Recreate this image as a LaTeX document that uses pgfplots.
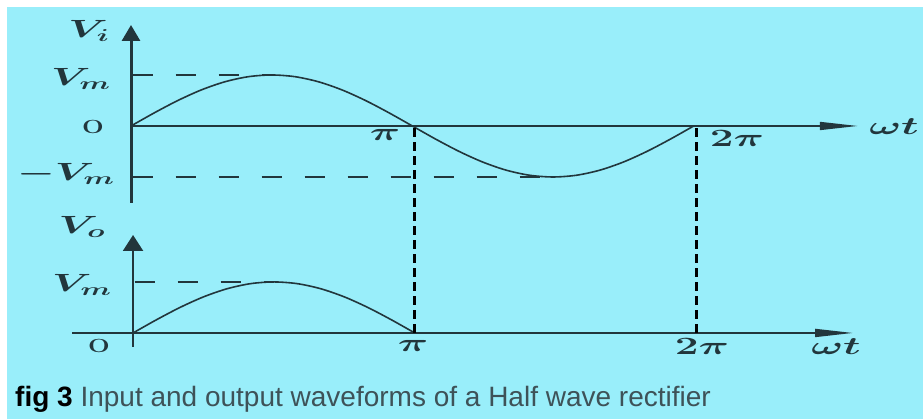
\documentclass[border=0pt]{standalone}
\usepackage{pgfplots}
\pgfplotsset{compat=1.18}
\usepackage{fontspec}
\usetikzlibrary{arrows.meta}
\newfontfamily\capfont{Liberation Sans}
\definecolor{bgcyan}{RGB}{153,238,250}
\definecolor{ink}{RGB}{34,54,60}
\definecolor{capgray}{RGB}{62,82,88}
\newcommand{\lab}[1]{\scalebox{1.7}[1]{\fontsize{25}{27}\selectfont\boldmath$#1$}}
\newcommand{\orig}{\scalebox{1.35}[1]{\fontsize{19}{21}\selectfont\bfseries O}}
\begin{document}
\begin{tikzpicture}
\useasboundingbox (0pt,0pt) rectangle (923pt,419pt);
\fill[white] (0pt,0pt) rectangle (923pt,419pt);
\fill[bgcyan] (7pt,0pt) rectangle (923pt,412pt);

% ---------- input waveform ----------
\begin{axis}[
  at={(131pt,216pt)}, anchor=south west,
  scale only axis, width=726.8pt, height=178pt,
  xmin=0, xmax=465, ymin=-1.51, ymax=1.98,
  enlargelimits=false, clip=false,
  axis lines=middle, xtick=\empty, ytick=\empty,
  axis line style={draw=ink},
  x axis line style={line width=1.5pt, -{Triangle[length=38pt,width=8pt]}},
  y axis line style={line width=3pt, -{Triangle[length=16pt,width=18pt]}},
]
\addplot[ink, line width=1.6pt, smooth] coordinates {
 (0,0) (15,0.259) (30,0.5) (45,0.707) (60,0.866) (75,0.966) (90,1)
 (105,0.966) (120,0.866) (135,0.707) (150,0.5) (165,0.259) (180,0)
 (195,-0.259) (210,-0.5) (225,-0.707) (240,-0.866) (255,-0.966) (270,-1)
 (285,-0.966) (300,-0.866) (315,-0.707) (330,-0.5) (345,-0.259) (360,0)};
\addplot[ink, line width=1.3pt, dash pattern=on 20pt off 23pt] coordinates {(1,1) (90,1)};
\addplot[ink, line width=1.3pt, dash pattern=on 20pt off 23pt] coordinates {(1,-1) (270,-1)};
\end{axis}

% ---------- output waveform ----------
\begin{axis}[
  at={(72pt,72pt)}, anchor=south west,
  scale only axis, width=781pt, height=112pt,
  xmin=-39, xmax=460, ymin=-0.275, ymax=1.92,
  enlargelimits=false, clip=false,
  axis lines=middle, xtick=\empty, ytick=\empty,
  axis line style={draw=ink},
  x axis line style={line width=1.7pt, -{Triangle[length=38pt,width=8pt]}},
  y axis line style={line width=2.2pt, -{Triangle[length=16pt,width=20pt]}},
]
\addplot[ink, line width=1.6pt, smooth] coordinates {
 (0,0) (15,0.259) (30,0.5) (45,0.707) (60,0.866) (75,0.966) (90,1)
 (105,0.966) (120,0.866) (135,0.707) (150,0.5) (165,0.259) (180,0)};
\addplot[ink, line width=1.6pt] coordinates {(180,0) (360,0)};
\addplot[ink, line width=1.3pt, dash pattern=on 20pt off 23pt] coordinates {(1,1) (90,1)};
\addplot[black, line width=2.8pt, dash pattern=on 9pt off 5pt] coordinates {(180,0) (180,4.06)};
\addplot[black, line width=2.8pt, dash pattern=on 9pt off 5pt] coordinates {(360,0) (360,4.06)};
\end{axis}

% ---------- labels ----------
\begin{scope}[every node/.style={text=ink, inner sep=0pt}]
\node at (89pt,388pt) {\lab{V_i}};
\node at (81pt,340pt) {\lab{V_m}};
\node at (93pt,292pt) {\orig};
\node at (66pt,245pt) {\lab{-V_m}};
\node at (385pt,284pt) {\lab{\pi}};
\node at (737pt,281pt) {\lab{2\pi}};
\node at (894pt,292pt) {\lab{\omega t}};
\node at (82pt,192pt) {\lab{V_o}};
\node at (82pt,134pt) {\lab{V_m}};
\node at (99pt,73pt) {\orig};
\node at (413pt,73pt) {\lab{\pi}};
\node at (702pt,73pt) {\lab{2\pi}};
\node at (836pt,72pt) {\lab{\omega t}};
\end{scope}

\node[anchor=base west, inner sep=0pt, text=capgray] at (15pt,12pt)
  {\capfont\fontsize{28}{30}\selectfont{\bfseries\color{black}fig 3} Input and output waveforms of a Half wave rectifier};
\end{tikzpicture}
\end{document}
